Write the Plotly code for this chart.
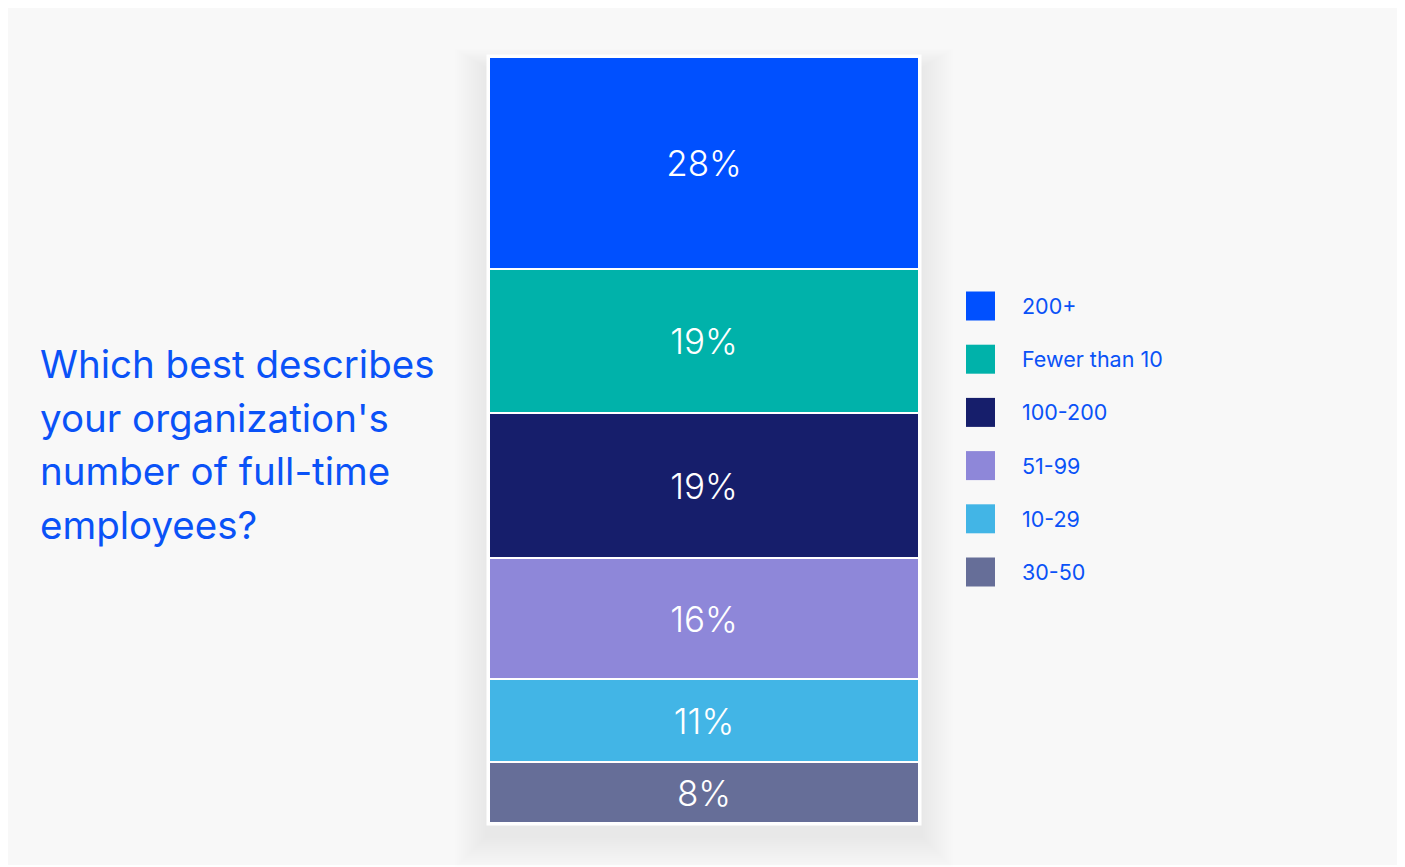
import plotly.graph_objects as go

# Data (bottom to top in the stack)
categories = ["30-50", "10-29", "51-99", "100-200", "Fewer than 10", "200+"]
values = [8, 11, 16, 19, 19, 28]
colors = ["#666e98", "#42b5e6", "#8e87d9", "#161e6b", "#00b2aa", "#0050ff"]
title_lines = ["Which best describes", "your organization's",
               "number of full-time", "employees?"]

W, H = 1405, 867
OFF = 8  # page offset of the rendered figure
FONT = "Inter"
BLUE = "#0a52f7"

def px(x):
    return (x - OFF) / W

def py(y):
    return 1 - (y - OFF) / H

fig = go.Figure()
for cat, val, col in zip(categories, values, colors):
    fig.add_trace(go.Bar(
        x=[0], y=[val], name=cat, width=1,
        marker=dict(color=col, line=dict(color="white", width=2)),
        text=[f"{val}%"], textposition="inside", insidetextanchor="middle",
        textfont=dict(family=FONT, size=35, color="white", weight=300),
        hoverinfo="skip", showlegend=False,
    ))

shapes = []
# background panel
shapes.append(dict(type="rect", xref="paper", yref="paper",
                   x0=px(7), x1=px(1398), y0=py(865), y1=py(6),
                   fillcolor="#f8f8f8", line=dict(width=0), layer="below"))
# soft shadow around bar (offset downward, blurred)
for i in range(16):
    g = 2 + i * 2.0
    shapes.append(dict(type="rect", xref="paper", yref="paper",
                       x0=px(487 - g), x1=px(921 + g),
                       y0=py(826 + 10 + g), y1=py(54 + 14 - g * 0.6),
                       fillcolor="#8c8cb4", opacity=0.011,
                       line=dict(width=0), layer="below"))
# white frame around bar
shapes.append(dict(type="rect", xref="paper", yref="paper",
                   x0=px(486.5), x1=px(921.5), y0=py(825.5), y1=py(54.5),
                   fillcolor="white", line=dict(width=0), layer="below"))

annotations = []
# custom legend (top to bottom: reversed stack order)
leg_y0 = 306
leg_step = 53.2
for i, (cat, col) in enumerate(zip(categories[::-1], colors[::-1])):
    cy = leg_y0 + i * leg_step
    shapes.append(dict(type="rect", xref="paper", yref="paper",
                       x0=px(966), x1=px(995), y0=py(cy + 14.5), y1=py(cy - 14.5),
                       fillcolor=col, line=dict(width=0)))
    annotations.append(dict(xref="paper", yref="paper", x=px(1020), y=py(cy),
                            text=cat, showarrow=False, xanchor="left", yanchor="middle",
                            font=dict(family=FONT, size=21.5, color=BLUE)))

# question text, one annotation per line
for i, line in enumerate(title_lines):
    annotations.append(dict(xref="paper", yref="paper", x=px(38), y=py(364 + i * 53.5),
                            text=line, showarrow=False, xanchor="left", yanchor="middle",
                            font=dict(family=FONT, size=38.5, color=BLUE, weight=400)))

fig.update_layout(
    width=W, height=H,
    margin=dict(l=0, r=0, t=0, b=0),
    paper_bgcolor="white", plot_bgcolor="rgba(0,0,0,0)",
    barmode="stack", bargap=0,
    xaxis=dict(domain=[px(489), px(919)], range=[-0.5, 0.5], visible=False, fixedrange=True),
    yaxis=dict(domain=[py(823), py(57)], range=[0, 101], visible=False, fixedrange=True),
    shapes=shapes, annotations=annotations,
    showlegend=False,
)

fig.write_html("out.html")
